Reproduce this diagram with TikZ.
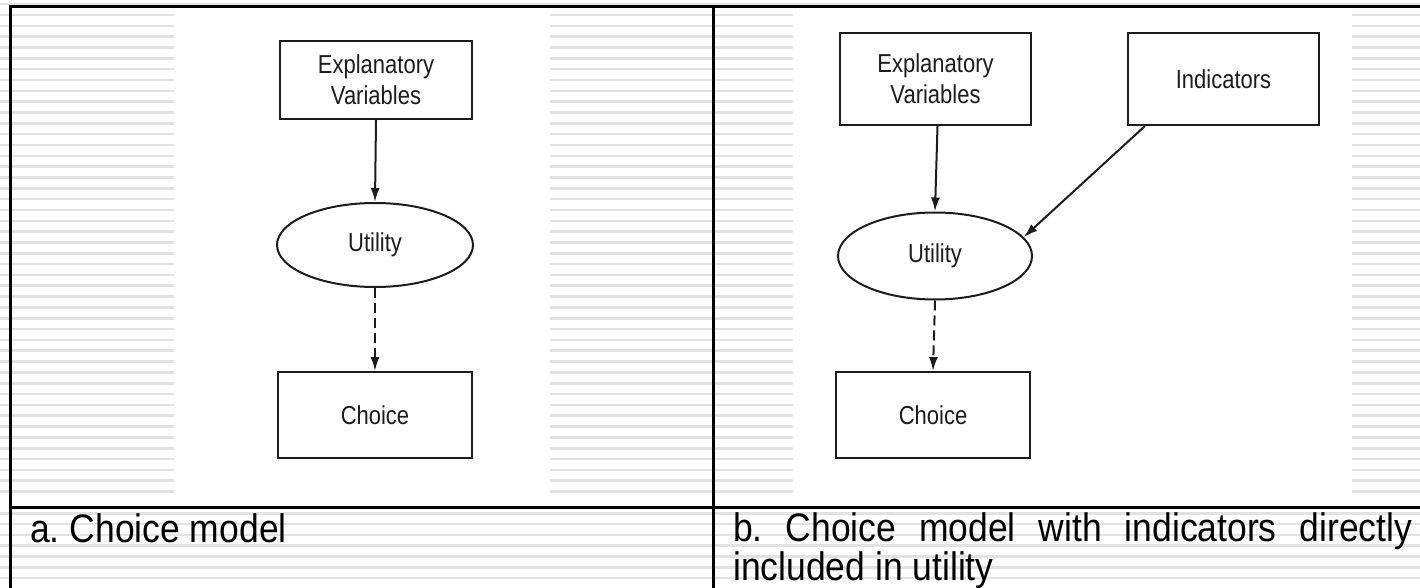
\documentclass[tikz,border=0pt]{standalone}
\usepackage{fontspec}
\usepackage{graphicx}
\setmainfont{Liberation Sans}
\usetikzlibrary{arrows.meta,shapes.geometric,calc}
\definecolor{stripe}{RGB}{226,226,226}
\definecolor{ink}{RGB}{28,28,28}
\newcommand\tallt[1]{\scalebox{1}[1.18]{#1}}
\newcommand\tallc[1]{\scalebox{1}[1.12]{#1}}
\frenchspacing
\tikzset{
  tbl/.style={line width=3pt,black},
  boxnode/.style={draw=ink,line width=2pt,rectangle,inner sep=0pt,align=center,
    font=\fontsize{22}{31}\selectfont,text=ink},
  ellnode/.style={draw=ink,line width=2pt,ellipse,inner sep=0pt,
    font=\fontsize{22}{31}\selectfont,text=ink},
  arr/.style={draw=ink,line width=2pt,-{Latex[length=14pt,width=9pt]}},
  darr/.style={arr,dash pattern=on 10pt off 5pt},
  captext/.style={anchor=base west,inner sep=0pt,font=\fontsize{35.5}{40}\selectfont}
}
\begin{document}
\begin{tikzpicture}[x=1pt,y=-1pt]
\useasboundingbox (0,0) rectangle (1420,588);
\fill[white] (0,0) rectangle (1420,588);
% background stripes
\foreach \i in {0,...,54}{
  \draw[stripe,line width=2.6pt] (0,{4.2+10.83*\i}) -- (1420,{4.2+10.83*\i});
}
% white picture areas
\fill[white] (174,9) rectangle (550,500);
\fill[white] (793,9) rectangle (1352,500);
\fill[white] (0,501) rectangle (1420,505);
% table lines
\draw[tbl] (10,7) -- (1420,7);
\draw[tbl] (10,507) -- (1420,507);
\draw[tbl] (10,5.5) -- (10,588);
\draw[tbl] (713,5.5) -- (713,588);

% column a
\node[boxnode,minimum width=192pt,minimum height=78pt] (ev1) at (376,80)
  {\tallt{Explanatory}\\\tallt{Variables}};
\node[ellnode,minimum width=196pt,minimum height=84pt] (u1) at (375,245) {\tallt{Utility}};
\node[boxnode,minimum width=194pt,minimum height=86pt] (c1) at (375,415) {\tallt{Choice}};
\draw[arr] (ev1.south) -- (u1.north);
\draw[darr] (u1.south) -- (c1.north);

% column b
\node[boxnode,minimum width=191pt,minimum height=92pt] (ev2) at (935.5,79)
  {\tallt{Explanatory}\\\tallt{Variables}};
\node[boxnode,minimum width=191pt,minimum height=92pt] (ind) at (1223.5,79) {\tallt{Indicators}};
\node[ellnode,minimum width=194pt,minimum height=87pt] (u2) at (935,256) {\tallt{Utility}};
\node[boxnode,minimum width=194pt,minimum height=86pt] (c2) at (933,415) {\tallt{Choice}};
\coordinate (evs) at ($(ev2.south)+(2,0)$);
\coordinate (inds) at ($(ind.south west)+(18,0)$);
\draw[arr] (evs) -- (u2.north);
\draw[arr] (inds) -- (u2.12);
\draw[darr] (u2.south) -- (c2.north);

% captions
\node[captext] (capa) at (30,542) {\tallc{a. Choice model}};
\node[captext] (capb1) at (733,541) {\tallc{\makebox[679pt][s]{b. Choice model with indicators directly}}};
\node[captext] (capb2) at (733,580) {\tallc{included in utility}};
\end{tikzpicture}
\end{document}
